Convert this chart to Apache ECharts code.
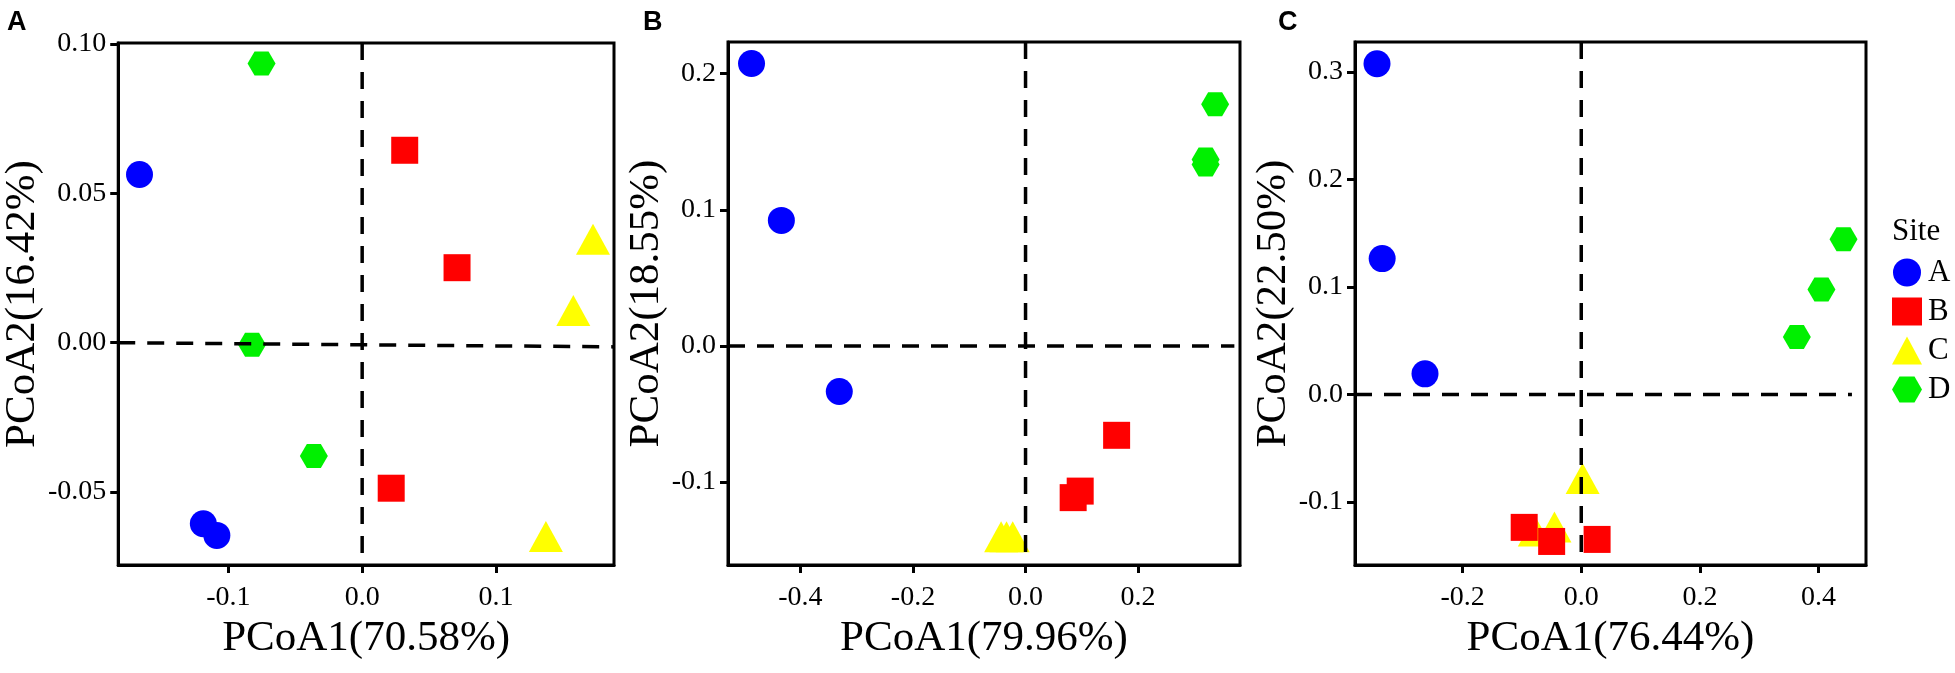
<!DOCTYPE html>
<html>
<head>
<meta charset="utf-8">
<script src="https://cdn.jsdelivr.net/npm/echarts@6/dist/echarts.min.js"></script>
<style>
  html, body { margin: 0; padding: 0; background: #fff; }
  #chart { width: 1955px; height: 673px; }
</style>
</head>
<body>
<div id="chart"></div>
<script>
// sites and their marks
const sites = ["A", "B", "C", "D"];

// panel A points [PCoA1, PCoA2]
const panelA_siteA = [[-0.1664, 0.0563], [-0.1187, -0.0606], [-0.1086, -0.0645]];
const panelA_siteB = [[0.0318, 0.0644], [0.0709, 0.0251], [0.0217, -0.0487]];
const panelA_siteC = [[0.1725, 0.0346], [0.1578, 0.0108], [0.1373, -0.0649]];
const panelA_siteD = [[-0.0752, 0.0934], [-0.0823, -0.0007], [-0.0361, -0.0379]];

// panel B points
const panelB_siteA = [[-0.4868, 0.2075], [-0.4338, 0.0922], [-0.3309, -0.0335]];
const panelB_siteB = [[0.1618, -0.0657], [0.0971, -0.1067], [0.0846, -0.1115]];
const panelB_siteC = [[-0.0434, -0.1402], [-0.0338, -0.1402], [-0.0228, -0.1402]];
const panelB_siteD = [[0.3368, 0.1775], [0.3199, 0.137], [0.3199, 0.1333]];

// panel C points
const panelC_siteA = [[-0.3443, 0.3076], [-0.3356, 0.1264], [-0.2634, 0.0192]];
const panelC_siteB = [[-0.0962, -0.1236], [-0.0499, -0.1367], [0.0267, -0.1348]];
const panelC_siteC = [[0.0023, -0.0782], [-0.0452, -0.1233], [-0.0783, -0.127]];
const panelC_siteD = [[0.4421, 0.1444], [0.4049, 0.0976], [0.3634, 0.0536]];

// axis titles and ticks
const xTitles = ["PCoA1(70.58%)", "PCoA1(79.96%)", "PCoA1(76.44%)"];
const yTitles = ["PCoA2(16.42%)", "PCoA2(18.55%)", "PCoA2(22.50%)"];
const xTicksA = [-0.1, 0.0, 0.1];
const yTicksA = [-0.05, 0.0, 0.05, 0.1];
const xTicksB = [-0.4, -0.2, 0.0, 0.2];
const yTicksB = [-0.1, 0.0, 0.1, 0.2];
const xTicksC = [-0.2, 0.0, 0.2, 0.4];
const yTicksC = [-0.1, 0.0, 0.1, 0.2, 0.3];

// dashed reference lines (start, end)
const hLineA = [[-0.1823, 0.0], [0.1882, -0.0014]];
const vLineA = [[0.0, 0.1003], [0.0, -0.0744]];
const hLineB = [[-0.5286, 0.0], [0.371, 0.0]];
const vLineB = [[0.0, 0.2233], [0.0, -0.161]];
const hLineC = [[-0.3814, 0.0], [0.4563, 0.0]];
const vLineC = [[0.0, 0.3279], [0.0, -0.1586]];

const hexagon = "path://M0,5 L2.5,0.67 L7.5,0.67 L10,5 L7.5,9.33 L2.5,9.33 Z";
const siteStyle = {
  A: { color: "#0000FF", symbol: "circle", size: 27 },
  B: { color: "#FF0000", symbol: "rect", size: 27 },
  C: { color: "#FFFF00", symbol: "triangle", size: [34, 31] },
  D: { color: "#00F000", symbol: hexagon, size: [28, 24] },
};

const serif = "Liberation Serif";
const grids = [
  { left: 112, top: 43, width: 502, height: 522 },
  { left: 728, top: 42, width: 512, height: 523 },
  { left: 1355, top: 42, width: 511, height: 523 },
];
const xRanges = [[-0.1823, 0.1882], [-0.5286, 0.381], [-0.3814, 0.48]];
const yRanges = [[-0.0744, 0.1003], [-0.161, 0.2233], [-0.1586, 0.3279]];
const xTicks = [xTicksA, xTicksB, xTicksC];
const yTicks = [yTicksA, yTicksB, yTicksC];
const yDecimals = [2, 1, 1];
const yNameGaps = [68, 45, 46];

const panelData = [
  [panelA_siteA, panelA_siteB, panelA_siteC, panelA_siteD],
  [panelB_siteA, panelB_siteB, panelB_siteC, panelB_siteD],
  [panelC_siteA, panelC_siteB, panelC_siteC, panelC_siteD],
];
const refLines = [[hLineA, vLineA], [hLineB, vLineB], [hLineC, vLineC]];

const tickStyle = { show: true, length: 8, lineStyle: { color: "#000", width: 3 } };

const xAxis = grids.map((g, i) => ({
  type: "value",
  gridIndex: i,
  min: xRanges[i][0],
  max: xRanges[i][1],
  name: xTitles[i],
  nameLocation: "middle",
  nameGap: 52,
  nameTextStyle: { fontFamily: serif, fontSize: 43, color: "#000" },
  splitLine: { show: false },
  axisLine: { show: true, onZero: false, lineStyle: { color: "#000", width: 3 } },
  axisTick: { ...tickStyle, customValues: xTicks[i] },
  axisLabel: {
    customValues: xTicks[i],
    margin: 19,
    fontFamily: serif,
    fontSize: 28,
    color: "#000",
    formatter: (v) => v.toFixed(1),
  },
}));

const yAxis = grids.map((g, i) => ({
  type: "value",
  gridIndex: i,
  min: yRanges[i][0],
  max: yRanges[i][1],
  name: yTitles[i],
  nameLocation: "middle",
  nameGap: yNameGaps[i],
  nameTextStyle: { fontFamily: serif, fontSize: 43, color: "#000" },
  splitLine: { show: false },
  axisLine: { show: true, onZero: false, lineStyle: { color: "#000", width: 3 } },
  axisTick: { ...tickStyle, customValues: yTicks[i] },
  axisLabel: {
    customValues: yTicks[i],
    margin: 12,
    fontFamily: serif,
    fontSize: 28,
    color: "#000",
    formatter: (v) => v.toFixed(yDecimals[i]),
  },
  z: 5,
}));

const series = [];
panelData.forEach((groups, p) => {
  // order: A, D, C, B so the red squares land on top of the triangles
  [0, 3, 2, 1].forEach((s) => {
    const st = siteStyle[sites[s]];
    series.push({
      type: "scatter",
      name: sites[s],
      xAxisIndex: p,
      yAxisIndex: p,
      data: groups[s],
      symbol: st.symbol,
      symbolSize: st.size,
      itemStyle: { color: st.color, opacity: 1 },
      emphasis: { disabled: true },
      z: 2,
    });
  });
  refLines[p].forEach((ln) => {
    series.push({
      type: "line",
      xAxisIndex: p,
      yAxisIndex: p,
      data: ln,
      showSymbol: false,
      symbol: "none",
      lineStyle: { color: "#000", width: 3.5, type: [17, 12] },
      silent: true,
      z: 3,
    });
  });
});

const chart = echarts.init(document.getElementById("chart"), null, { renderer: "canvas" });
chart.setOption({
  animation: false,
  backgroundColor: "#fff",
  title: [
    { text: "A", left: 2, top: 4, textStyle: { fontFamily: "Liberation Sans", fontWeight: "bold", fontSize: 27, color: "#000" } },
    { text: "B", left: 638, top: 4, textStyle: { fontFamily: "Liberation Sans", fontWeight: "bold", fontSize: 27, color: "#000" } },
    { text: "C", left: 1273, top: 4, textStyle: { fontFamily: "Liberation Sans", fontWeight: "bold", fontSize: 27, color: "#000" } },
    { text: "Site", left: 1887, top: 211, textStyle: { fontFamily: serif, fontWeight: "normal", fontSize: 31, color: "#000" } },
  ],
  legend: {
    orient: "vertical",
    left: 1887,
    top: 252,
    itemWidth: 30,
    itemHeight: 28,
    itemGap: 8,
    selectedMode: false,
    textStyle: { fontFamily: serif, fontSize: 31, color: "#000", padding: [0, 0, 0, 1] },
    data: sites.map((s) => ({ name: s, icon: siteStyle[s].symbol })),
  },
  grid: grids.map((g) => ({ ...g, show: true, borderColor: "#000", borderWidth: 3, backgroundColor: "transparent" })),
  xAxis,
  yAxis,
  series,
});
</script>
</body>
</html>
